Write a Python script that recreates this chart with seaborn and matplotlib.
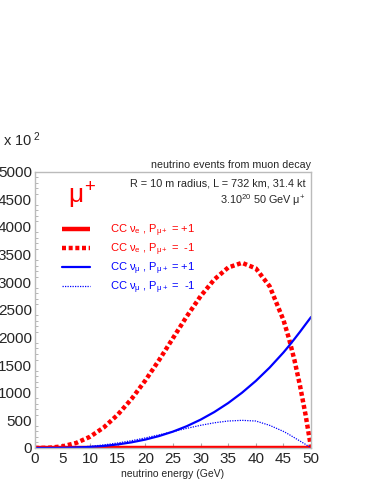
import matplotlib
matplotlib.use("Agg")
import matplotlib.pyplot as plt
from matplotlib.ticker import MultipleLocator
import seaborn as sns

# values (events, in units of 10^2)
energy = [0, 2.5, 5, 7.5, 10, 12.5, 15, 17.5, 20, 22.5, 25, 27.5, 30, 32.5,
          35, 37.5, 40, 42.5, 45, 46, 47, 48, 49, 50]
nue_plus = [0] * len(energy)
nue_minus = [0, 4, 29, 91, 203, 372, 600, 885, 1220, 1590, 1985, 2380, 2745,
             3050, 3265, 3350, 3250, 2925, 2315, 1980, 1585, 1125, 600, 0]
numu_plus = [0, 0, 2, 8, 19, 37, 64, 102, 152, 216, 296, 394, 512, 651,
             813, 1000, 1213, 1455, 1728, 1848, 1974, 2103, 2237, 2370]
numu_minus = [0, 0, 3, 14, 30, 56, 90, 132, 182, 238, 296, 355, 410, 456,
              488, 500, 488, 410, 300, 245, 185, 125, 65, 0]

labels = ["CC $\\nu_e$ , P$_{\\mu +}$ = +1",
          "CC $\\nu_e$ , P$_{\\mu +}$ =  -1",
          "CC $\\nu_\\mu$ , P$_{\\mu +}$ = +1",
          "CC $\\nu_\\mu$ , P$_{\\mu +}$ =  -1"]

sns.set_style("white")
plt.rcParams["font.family"] = ["Liberation Sans", "DejaVu Sans"]
plt.rcParams["mathtext.fontset"] = "custom"
plt.rcParams["mathtext.rm"] = "Liberation Sans"
plt.rcParams["mathtext.it"] = "Liberation Sans"
plt.rcParams["mathtext.bf"] = "Liberation Sans:bold"

fig = plt.figure(figsize=(3.74, 4.84), dpi=100)
ax = fig.add_axes([0.0928, 0.0744, 0.739, 0.571])

sns.lineplot(x=energy, y=nue_plus, ax=ax, color="#ff0000", linewidth=3.2,
             label=labels[0], solid_capstyle="butt")
sns.lineplot(x=energy, y=nue_minus, ax=ax, color="#ff0000", linewidth=3.2,
             linestyle=(0, (0.9, 0.6)), label=labels[1], dash_capstyle="butt")
sns.lineplot(x=energy, y=numu_plus, ax=ax, color="#0000ff", linewidth=1.6,
             label=labels[2])
sns.lineplot(x=energy, y=numu_minus, ax=ax, color="#0000ff", linewidth=0.9,
             linestyle=(0, (1, 1)), label=labels[3])

ax.set_xlim(0, 50)
ax.set_ylim(0, 5000)
ax.xaxis.set_major_locator(MultipleLocator(5))
ax.yaxis.set_major_locator(MultipleLocator(500))
ax.yaxis.set_minor_locator(MultipleLocator(100))
ax.tick_params(axis="both", which="both", direction="in", color="#aaaaaa",
               labelsize=11)
ax.tick_params(axis="y", which="major", length=5, pad=2)
ax.tick_params(axis="y", which="minor", length=2.5, left=True)
ax.tick_params(axis="x", which="major", length=3.5, bottom=True, pad=3)
for sp in ax.spines.values():
    sp.set_color("#bbbbbb")
    sp.set_linewidth(1.0)

ax.set_xlabel("neutrino energy (GeV)", fontsize=7.5, labelpad=2)
ax.set_ylabel("")

leg = ax.legend(loc="upper left", bbox_to_anchor=(0.099, 0.817), frameon=False,
                fontsize=8.0, handlelength=2.5, handletextpad=1.8,
                labelspacing=0.25, borderaxespad=0, borderpad=0,
                labelcolor="linecolor")

ax.text(6.0, 4560, "$\\mu^{+}$", color="#ff0000", fontsize=19, ha="left", va="center")
ax.text(1.0, 1.006, "neutrino events from muon decay", transform=ax.transAxes,
        ha="right", va="bottom", fontsize=7.7)
ax.text(0.982, 0.958, "R = 10 m radius, L = 732 km, 31.4 kt", transform=ax.transAxes,
        ha="right", va="center", fontsize=7.8)
ax.text(0.982, 0.897, "3.10$^{20}$ 50 GeV $\\mu^{+}$", transform=ax.transAxes,
        ha="right", va="center", fontsize=7.8)
fig.text(0.008, 1 - 140 / 484, "x 10$^{\\ 2}$", ha="left", va="center", fontsize=10.5)

fig.savefig("out.png", dpi=100)
